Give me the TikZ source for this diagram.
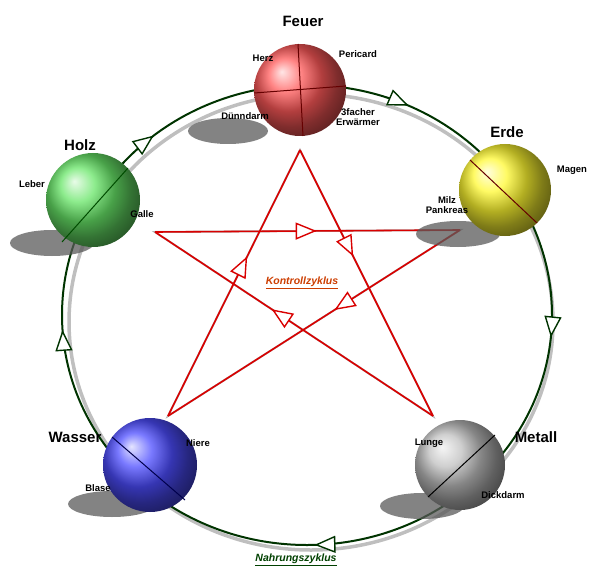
\documentclass[tikz,border=0pt]{standalone}
\usepackage{fontspec}
\setmainfont{Liberation Sans}
\usetikzlibrary{arrows.meta,decorations.markings}
\begin{document}
\begin{tikzpicture}[x=1pt,y=-1pt,
  tri/.tip={Triangle[open,fill=white,length=21pt,width=17pt]},
  lab/.style={font=\bfseries\fontsize{9.5}{10.5}\selectfont,align=center,inner sep=0},
  el/.style={font=\bfseries\fontsize{15}{16}\selectfont,inner sep=0},
  shad/.style={fill=black!65,opacity=0.75},
  star/.style={red!85!black,line width=1.6pt},
  starsh/.style={black!30,line width=2pt},
  mid/.style={postaction={decorate},decoration={markings,mark=at position #1 with {\arrow[line width=1.4pt]{tri}}}},
  ring/.style={green!20!black,line width=2pt},
  ringar/.style={postaction={decorate},decoration={markings,
     mark=at position 0.015 with {\arrow[line width=1.4pt]{tri}},
     mark=at position 0.245 with {\arrow[line width=1.4pt]{tri}},
     mark=at position 0.49 with {\arrow[line width=1.4pt]{tri}},
     mark=at position 0.64 with {\arrow[line width=1.4pt]{tri}},
     mark=at position 0.82 with {\arrow[line width=1.4pt]{tri}}}},
  divl/.style={red!40!black,line width=1pt}
]
\useasboundingbox (0,0) rectangle (607,580);
% ring shadow and ring
\draw[black!25,line width=3.5pt] (311,322) ellipse [x radius=242,y radius=228];
\draw[ring,ringar] (307,315) ellipse [x radius=245,y radius=230];
% star coordinates
\coordinate (T) at (300,150);
\coordinate (R) at (460,230);
\coordinate (BR) at (433,416);
\coordinate (BL) at (168,416);
\coordinate (L) at (155,232);
\begin{scope}[shift={(-4,5)}]
\draw[starsh] (T)--(BR)--(L)--(R)--(BL)--cycle;
\end{scope}
\draw[star,mid=0.40] (T)--(BR);
\draw[star,mid=0.58] (BR)--(L);
\draw[star,mid=0.53] (L)--(R);
\draw[star,mid=0.43] (R)--(BL);
\draw[star,mid=0.60] (BL)--(T);
\node[text=orange!60!red!80!black,font=\bfseries\itshape\fontsize{10.5}{11}\selectfont] (kz) at (302,283) {\underline{Kontrollzyklus}};
\node[text=green!25!black,font=\bfseries\itshape\fontsize{10.5}{11}\selectfont] (nz) at (296,560) {\underline{Nahrungszyklus}};
% shadows
\fill[shad] (228,131) ellipse [x radius=40,y radius=13];
\fill[shad] (458,234) ellipse [x radius=42,y radius=13];
\fill[shad] (422,506) ellipse [x radius=42,y radius=13];
\fill[shad] (112,504) ellipse [x radius=44,y radius=13];
\fill[shad] (52,243) ellipse [x radius=42,y radius=13];
% spheres
\shade[ball color=red!65!white] (300,90) circle (46);
\draw[divl] (298,44)--(303,136);
\draw[divl] (254,93)--(346,86);
\shade[ball color=yellow!80!white!95!orange] (505,190) circle (46);
\draw[divl] (470,160)--(537,223);
\shade[ball color=black!25] (460,465) circle (45);
\draw[divl,black] (495,435)--(428,497);
\shade[ball color=blue!70!white] (150,465) circle (47);
\draw[divl,black!70!blue] (112,437)--(185,500);
\shade[ball color=green!55!white!90!black] (93,200) circle (47);
\draw[divl,black!70!green] (128,168)--(62,242);
% labels
\node[el] (fe) at (303,21) {Feuer};
\node[el] (er) at (507,132) {Erde};
\node[el] (me) at (536,437) {Metall};
\node[el] (wa) at (75,437) {Wasser};
\node[el] (ho) at (80,145) {Holz};
\node[lab] at (263,58) {Herz};
\node[lab] at (358,54) {Pericard};
\node[lab] at (245,116) {Dünndarm};
\node[lab] at (358,117) {3facher\\Erwärmer};
\node[lab] at (572,170) {Magen};
\node[lab] at (447,205) {Milz\\Pankreas};
\node[lab] at (429,443) {Lunge};
\node[lab] at (503,495) {Dickdarm};
\node[lab] at (198,443) {Niere};
\node[lab] at (98,488) {Blase};
\node[lab] at (32,184) {Leber};
\node[lab] at (142,214) {Galle};
\end{tikzpicture}
\end{document}
